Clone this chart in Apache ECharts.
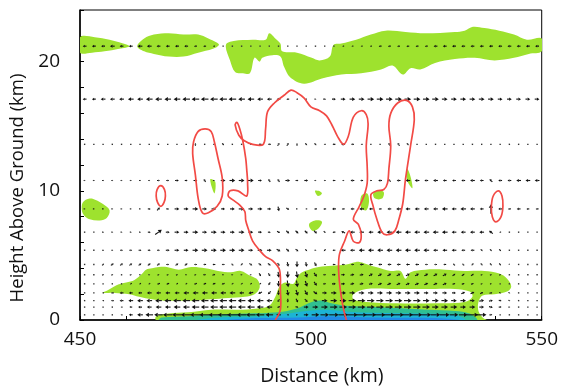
<!DOCTYPE html>
<html>
<head>
<meta charset="utf-8">
<script src="https://cdn.jsdelivr.net/npm/echarts@6/dist/echarts.min.js"></script>
<style>
  html, body { margin: 0; background: #fff; }
  #chart { width: 561px; height: 391px; }
</style>
</head>
<body>
<div id="chart"></div>
<script>
// vector grid: heights (km) of the wind rows and distances (km) of the columns
const levels = [21.2, 17.1, 13.6, 10.8, 8.6, 6.8, 5.4, 4.3, 3.5, 2.8, 2.1, 1.5, 1.0, 0.4];
const columns = [451, 453, 455, 457, 459, 461, 463, 465, 467, 469,
  471, 473, 475, 477, 479, 481, 483, 485, 487, 489,
  491, 493, 495, 497, 499, 501, 503, 505, 507, 509,
  511, 513, 515, 517, 519, 521, 523, 525, 527, 529,
  531, 533, 535, 537, 539, 541, 543, 545, 547, 549];

// horizontal wind (m/s), one row per level
const uWind = [
  [-4,-4,-4,-5,-4, -4,-5,-5,-4,-4, -4,-4,-3,-3,-2, -1,-1,-1,-1,-1, -1,-1,-1,-1,-1, -1,-1,-1,-2,-2, -2,-2,-3,-3,-3, -3,-3,-3,-4,-4, -4,-4,-4,-4,-4, -4,-4,-4,-4,-4],
  [-4,-4,-5,-5,-5, -6,-6,-7,-7,-7, -7,-8,-8,-8,-8, -8,-8,-7,-7,-6, -5,-4,-3,-2,0, 2,3,4,5,6, 6,7,7,7,7, 7,7,7,7,6, 6,6,6,6,6, 5,5,5,5,5],
  [-1,-1,-1,-1,-1, -1,-1,-1,-1,-1, -1,-1,0,-1,-1, 2,-1,-1,-1,-3, -3,2,2,0,2, 2,-2,-3,-4,-3, -2,-1,-1,-2,-2, 2,-1,-1,-1,-1, -1,-1,-1,-1,-1, -1,-1,-1,-1,-1],
  [2,2,2,2,2, 2,2,2,3,3, 4,3,4,-2,2, 5,6,6,6,4, -2,-2,5,3,4, 2,-2,-3,-2,-4, -3,-2,-4,-3,-4, -5,-5,-4,-5,-4, -4,-4,-5,-4,-3, -4,-4,-5,-5,-5],
  [2,2,2,2,2, 2,2,3,3,3, 5,5,6,5,5, 4,5,6,5,5, 4,1,3,2,-2, -3,-3,-4,-3,-4, -5,-4,-3,-4,-5, -5,-5,-5,-5,-6, -5,-6,-5,-4,0, -4,-3,-4,-3,-3],
  [1,1,2,2,2, 2,2,3,7,4, 5,5,6,5,6, 5,5,6,5,4, 3,3,3,3,3, 3,2,-3,-4,-5, -5,-5,-6,-6,-6, -6,-6,-6,-6,-6, -5,-5,-5,-5,-4, -2,-1,-1,-1,-1],
  [1,1,2,2,3, 3,3,3,3,4, 5,5,6,6,6, 6,6,6,5,5, 5,4,3,3,2, 2,-2,-3,-5,-5, -6,-6,-6,-6,-6, -6,-6,-6,-5,-5, -5,-4,-4,2,2, 2,1,1,1,1],
  [1,1,2,3,3, 3,3,3,3,3, 3,3,-3,-3,-3, -3,-2,-2,3,3, 3,2,1,0,1, 2,-2,-3,-3,-3, -4,-4,-4,-4,-4, -4,-4,-3,-3,-3, -2,-2,-2,2,2, 2,1,1,0,0],
  [0,1,2,2,1, 2,2,2,2,2, 2,2,2,3,3, 2,2,2,2,2, 2,1,0,1,2, 3,3,4,4,4, 4,4,4,4,4, 4,4,4,4,4, 3,3,3,2,2, 2,1,1,0,0],
  [0,0,1,1,1, -2,-2,-2,-3,-3, -2,-2,-3,-3,-3, -3,-2,-2,-2,-2, -2,0,1,1,2, 3,3,4,4,4, 4,4,4,4,4, 4,4,4,4,4, 3,3,3,2,2, 1,1,0,0,0],
  [0,-1,-2,-3,-4, -4,-4,-5,-5,-5, -5,-6,-6,-6,-6, -6,-6,-5,-5,-4, -3,0,1,2,3, 4,5,6,6,6, 6,6,6,6,6, 6,6,5,5,5, 4,4,4,3,3, 2,2,1,1,0],
  [0,-1,-2,-3,-4, -5,-6,-6,-7,-7, -8,-8,-8,-8,-8, -8,-8,-8,-7,-7, -6,-2,0,2,3, 4,6,7,7,8, 8,8,8,8,8, 8,8,7,7,7, 6,6,5,5,4, 3,2,1,1,0],
  [0,0,-1,-1,-2, -3,-4,-5,-6,-6, -7,-7,-8,-8,-8, -8,-8,-8,-8,-7, -6,-3,0,3,5, 6,7,8,8,8, 8,8,8,8,8, 8,8,8,7,7, 7,6,6,5,4, 3,2,1,1,0],
  [0,0,-1,-1,-2, -4,-6,-8,-9,-10, -10,-11,-11,-11,-11, -11,-11,-10,-10,-9, -8,-5,-2,2,5, 8,9,10,10,11, 11,11,11,11,11, 11,11,10,10,10, 9,9,12,10,3, 1,1,0,0,0]
];

// vertical wind (scaled), one row per level
const wWind = [
  [0,0,0,0,0, 0,0,0,0,0, 0,0,0,0,0, 0,0,0,0,0, 0,0,0,0,0, 0,0,0,0,0, 0,0,0,0,0, 0,0,0,0,0, 0,0,0,0,0, 0,0,0,0,0],
  [0,0,0,0,0, 0,0,0,0,0, 0,0,0,0,0, 0,0,0,0,0, 0,0,0,0,0, 0,0,0,0,0, 0,0,0,0,0, 0,0,0,0,0, 0,0,0,0,0, 0,0,0,0,0],
  [0,0,0,0,0, 0,0,0,0,0, 0,0,3,0,0, -2,0,0,0,0, 0,3,3,3,-2, -2,0,0,0,0, 0,0,0,3,3, -2,0,0,0,0, 0,0,0,0,0, 0,0,0,0,0],
  [0,0,0,0,0, 0,0,0,0,0, 0,0,0,3,0, 0,0,0,0,0, 3,3,0,0,0, 0,0,0,0,0, 0,0,0,2,0, 0,0,0,0,0, 0,0,0,0,3, 0,0,0,0,0],
  [0,0,0,0,0, 0,0,0,3,0, 0,0,0,0,0, 0,0,0,0,0, 0,-5,-2,0,0, 0,0,0,0,0, 0,0,0,0,0, 0,0,0,0,0, 0,0,0,0,10, 0,0,0,0,0],
  [0,0,0,0,0, 0,0,0,5,0, 0,0,0,0,0, 0,0,0,0,0, 0,-2,-3,-3,-3, -3,-2,0,2,0, 0,0,0,0,0, 0,0,0,0,0, 0,0,0,0,3, 0,0,0,0,0],
  [0,0,0,0,0, 0,0,0,0,0, 0,0,0,0,0, 0,0,0,0,0, 0,-2,-3,-2,-2, 0,-2,0,0,0, 0,0,0,0,0, 0,0,0,0,0, 0,0,0,-2,-2, -2,0,0,0,0],
  [0,0,2,2,2, 2,2,2,2,0, 2,2,0,0,0, 0,2,-2,-2,-2, -2,-3,-5,-6,-5, -4,0,0,0,0, 0,0,0,0,0, 0,0,0,0,0, 2,2,-2,-2,-2, -2,-1,0,0,0],
  [0,0,1,1,0, 1,0,0,1,1, 1,0,1,0,1, 0,0,0,0,-3, -3,-6,-7,-7,-6, -4,0,0,0,1, 1,2,2,2,2, 2,2,2,2,2, 2,2,2,1,1, 1,0,0,0,0],
  [0,0,0,0,0, -1,-1,-1,-1,-1, -1,-1,-1,-1,-1, -1,-1,-1,-1,-1, -3,-6,-7,-7,-6, -4,0,0,0,1, 1,1,2,2,2, 2,2,2,2,2, 1,1,1,1,0, 0,0,0,0,0],
  [0,0,0,0,0, 0,0,0,0,0, 0,0,0,0,0, 0,0,0,-1,-2, -3,-5,-6,-6,-5, -3,0,0,0,0, 0,0,0,0,0, 0,0,0,0,0, 0,2,2,2,1, -1,-1,0,0,0],
  [0,0,0,0,0, 0,0,0,0,0, 0,0,0,0,0, 0,0,0,0,0, 0,-3,-4,-4,-3, -2,0,0,0,0, 0,0,0,0,0, 0,0,0,0,0, 0,0,0,1,1, -1,-1,0,0,0],
  [0,0,0,0,0, 0,0,0,0,0, 0,0,0,0,0, 0,0,0,0,0, 0,-1,-2,-1,0, 0,0,0,0,0, 0,0,0,0,0, 0,0,0,0,0, 0,0,0,0,-1, 0,0,0,0,0],
  [0,0,0,0,0, 0,0,0,0,0, 0,0,0,0,0, 0,0,0,0,0, 0,0,0,0,0, 0,0,0,0,0, 0,0,0,0,0, 0,0,0,0,0, 0,0,0,0,0, 0,0,0,0,0]
];

// filled contour outlines, [distance km, height km]
const anvilLeft = [[450,21.9],[453.2,21.9],[456.4,21.7],[458.5,21.5],[460.7,21.2],[458.5,21.0],[455.3,20.8],[452.6,20.7],[450,20.7]];
const anvilMid = [[462.4,21.2],[463.9,21.8],[466.0,22.1],[469.2,22.2],[472.4,22.1],[475.6,22.1],[477.8,21.8],[479.5,21.5],[480.1,21.3],[478.8,21.0],[475.6,20.7],[472.4,20.4],[469.2,20.4],[466.0,20.6],[463.9,20.8]];
const anvilRight = [[481.6,21.3],[483.3,21.6],[487.4,21.7],[490.2,21.7],[491.0,22.2],[492.3,21.8],[493.4,21.4],[493.8,20.8],[497.0,20.7],[500.2,20.3],[501.9,20.1],[504.1,20.4],[504.9,21.3],[506.6,21.4],[509.8,21.7],[513.0,22.1],[516.2,22.4],[520.5,22.3],[524.8,22.2],[531.2,22.3],[533.3,22.4],[535.1,22.7],[537.6,22.6],[540.8,22.4],[544.0,22.1],[546.8,21.7],[550,21.8],
  [550,20.8],[547.2,20.6],[544.0,20.3],[539.8,20.1],[535.5,20.3],[531.2,20.2],[526.9,19.9],[523.7,19.4],[521.6,19.5],[519.9,19.0],[517.7,19.7],[515.2,19.4],[510.9,19.1],[506.6,19.0],[502.4,18.7],[498.5,18.3],[495.5,18.8],[494.2,19.6],[493.4,20.4],[491.7,20.5],[489.5,20.3],[488.9,20.0],[487.8,20.3],[486.8,19.1],[485.3,19.1],[483.6,19.2],[482.5,20.1]];
const midLeftPatch = [[450.6,9.1],[452.1,9.4],[453.4,9.3],[454.9,9.0],[456.4,8.5],[455.8,7.9],[454.3,7.7],[452.1,7.8],[450.9,8.1],[450.4,8.5]];
const lowLeftCloud = [[454.9,2.1],[456.0,2.3],[457.9,2.7],[460.0,2.9],[461.8,3.1],[463.5,3.6],[464.3,3.9],[465.6,4.0],[467.1,4.1],[468.8,4.1],[471.4,3.9],[474.1,4.1],[477.1,4.0],[479.9,3.8],[482.7,3.7],[484.8,3.8],[487.0,3.4],[488.5,3.1],[488.9,2.5],[487.8,2.0],[485.7,1.8],[482.1,1.7],[478.4,1.6],[474.6,1.5],[471.4,1.5],[468.2,1.5],[465.6,1.6],[462.8,1.8],[460.7,2.0],[457.5,2.1]];
const lowRightCloud = [[466.5,0],[466.5,0.3],[469.2,0.5],[473.5,0.6],[478.4,0.8],[484.2,0.8],[488.5,0.9],[491.0,1.1],[492.3,1.8],[493.2,2.6],[494.4,2.9],[496.2,2.8],[497.0,3.3],[498.1,3.7],[499.6,3.9],[501.7,4.1],[504.5,4.2],[507.7,4.3],[509.8,4.5],[511.5,4.4],[514.1,4.1],[517.3,3.8],[519.4,3.8],[520.5,3.2],[521.6,3.7],[524.8,3.9],[529.1,3.9],[533.3,3.8],[537.6,3.8],[540.8,3.6],[542.5,3.2],[543.4,2.6],[542.5,2.2],[539.8,2.0],[537.2,1.9],[536.3,1.4],[536.3,0.7],[537.2,0.2],[538.0,0]];
const innerPatches = [
  [[478.2,10.9],[479.3,10.7],[479.1,9.8]],
  [[500.9,10.0],[501.7,10.0],[502.4,9.8],[501.5,9.6]],
  [[499.6,7.4],[500.9,7.7],[502.4,7.6],[501.7,7.1],[500.4,6.9]],
  [[510.9,9.6],[512.2,9.8],[512.6,9.2],[512.0,8.5],[510.9,8.7]],
  [[513.5,9.8],[514.7,10.0],[515.8,9.9],[515.4,9.4],[513.9,9.4]],
  [[520.9,11.7],[521.6,11.1],[522.0,10.2],[521.1,10.6],[520.7,11.1]]
];
const clearGap = [[509.2,2.0],[512.0,2.4],[518.4,2.4],[524.8,2.4],[531.2,2.4],[534.4,2.2],[535.0,1.8],[533.3,1.4],[526.9,1.3],[518.4,1.3],[512.0,1.4],[509.2,1.6]];
const tealLayer = [[467.1,0],[467.7,0.2],[473.5,0.3],[478.4,0.4],[486.3,0.5],[492.7,0.6],[497.0,0.9],[500.2,1.4],[502.4,1.5],[504.5,1.3],[507.7,1.1],[514.1,1.0],[525.4,0.8],[531.2,0.7],[534.4,0.5],[535.9,0]];
const cyanLayer = [[475.6,0],[479.9,0.2],[488.5,0.3],[494.9,0.5],[499.1,0.7],[503.4,0.8],[509.8,0.6],[522.6,0.5],[531.2,0.4],[533.3,0]];
const blueLayer = [[482.1,0],[488.5,0.15],[497.0,0.2],[503.4,0.3],[514.1,0.2],[526.9,0.15],[531.8,0]];

// red contour lines
const cloudEdge = [[492.3,0.0],[493.4,0.8],[493.4,2.3],[493.2,3.9],[491.7,4.6],[490.2,4.9],[488.9,5.4],[487.4,6.1],[486.5,7.0],[485.9,7.7],[485.7,8.4],[484.6,8.9],[483.1,9.3],[482.1,9.6],[482.5,10.0],[484.2,10.0],[486.1,9.6],[486.3,10.6],[486.1,11.7],[485.9,12.5],[485.3,13.8],[484.6,14.8],[484.0,15.3],[483.6,15.1],[484.4,14.3],[485.5,13.9],[487.4,13.6],[489.7,13.6],[490.2,14.8],[490.6,16.1],[492.1,16.8],[494.2,17.4],[495.7,17.8],[497.0,17.6],[498.5,17.2],[500.0,16.5],[501.9,16.2],[503.4,15.8],[504.7,15.0],[505.8,14.2],[507.1,13.6],[508.1,14.2],[509.2,15.7],[510.9,16.2],[512.0,15.9],[512.4,15.2],[512.0,13.5],[512.2,11.9],[512.2,10.6],[511.5,9.6],[510.5,8.8],[509.2,7.8],[510.3,7.4],[510.9,6.6],[510.5,6.0],[509.2,6.1],[508.3,6.9],[507.3,6.1],[506.2,5.1],[506.0,4.1],[506.2,2.9],[506.6,1.8],[507.1,0.8],[507.7,0.0]];
const towerLeft = [[474.6,13.8],[475.6,14.6],[477.1,14.8],[478.4,14.6],[479.1,13.8],[479.9,12.5],[480.8,11.0],[480.8,9.6],[479.7,8.8],[477.8,8.3],[476.5,8.3],[475.6,9.4],[475.0,11.2],[474.4,12.9]];
const towerRight = [[518.8,16.8],[520.7,17.0],[522.0,16.5],[522.4,15.5],[521.6,13.5],[520.5,10.9],[519.9,9.0],[519.0,7.7],[518.2,6.9],[516.6,6.6],[515.4,6.8],[514.3,7.8],[513.5,8.8],[513.0,9.7],[514.3,10.0],[515.8,10.1],[516.6,10.6],[516.9,11.7],[517.3,13.5],[516.9,15.0],[517.3,16.0]];
const cellWest = [[467.5,10.4],[468.3,10.1],[468.5,9.6],[468.2,9.1],[467.5,8.8],[466.8,9.1],[466.5,9.6],[466.7,10.1]];
const cellEast = [[540.6,10.0],[541.4,9.6],[541.6,8.8],[541.2,8.0],[540.1,7.6],[539.3,8.0],[539.1,8.8],[539.5,9.6]];

const ARROW_SCALE = 0.95;

const vectors = [];
levels.forEach((h, r) => {
  columns.forEach((x, c) => vectors.push([x, h, uWind[r][c], wWind[r][c]]));
});

function shapeSeries(shapes, opts) {
  return {
    type: 'custom',
    clip: true,
    z: opts.z,
    silent: true,
    data: shapes.map(s => s[0]),
    renderItem: (params, api) => {
      const pts = shapes[params.dataIndex].map(p => api.coord(p));
      return {
        type: opts.open ? 'polyline' : 'polygon',
        shape: { points: pts, smooth: 0.35 },
        style: opts.stroke
          ? { fill: opts.open ? null : 'none', stroke: opts.stroke, lineWidth: 1.7 }
          : { fill: opts.fill }
      };
    }
  };
}

function renderArrow(params, api) {
  const p = api.coord([api.value(0), api.value(1)]);
  const dx = api.value(2) * ARROW_SCALE;
  const dy = -api.value(3) * ARROW_SCALE;
  const len = Math.hypot(dx, dy);
  const color = '#111';
  if (len < 1.2) {
    return { type: 'rect', shape: { x: p[0] - 0.7, y: p[1] - 0.7, width: 1.4, height: 1.4 }, style: { fill: '#333' } };
  }
  const x0 = p[0] - dx / 2, y0 = p[1] - dy / 2;
  const x1 = p[0] + dx / 2, y1 = p[1] + dy / 2;
  const ux = dx / len, uy = dy / len;
  const hl = Math.min(3.5, len * 0.55), hw = hl * 0.62;
  const bx = x1 - ux * hl, by = y1 - uy * hl;
  return {
    type: 'group',
    children: [
      { type: 'line', shape: { x1: x0, y1: y0, x2: bx, y2: by }, style: { stroke: color, lineWidth: 1.1 } },
      { type: 'polygon', shape: { points: [[x1, y1], [bx - uy * hw, by + ux * hw], [bx + uy * hw, by - ux * hw]] }, style: { fill: color } }
    ]
  };
}

const chart = echarts.init(document.getElementById('chart'));
const font = '"Open Sans", "DejaVu Sans", sans-serif';

chart.setOption({
  animation: false,
  grid: { left: 80, right: 13, top: 10, bottom: 68, show: true, borderColor: '#000', borderWidth: 1, backgroundColor: '#fff' },
  xAxis: {
    type: 'value', min: 450, max: 550, interval: 10,
    name: 'Distance (km)', nameLocation: 'middle', nameGap: 46,
    nameTextStyle: { fontFamily: font, fontSize: 19.5, color: '#111', padding: [0, 0, 0, 22] },
    axisLine: { onZero: false, lineStyle: { color: '#000', width: 1.5 } },
    axisTick: { inside: true, length: 4, lineStyle: { color: '#000' } },
    axisLabel: { formatter: v => (v % 50 === 0 ? String(v) : ''), fontFamily: font, fontSize: 19, color: '#111', margin: 10 },
    splitLine: { show: false }
  },
  yAxis: {
    type: 'value', min: 0, max: 24, interval: 2,
    name: 'Height Above Ground (km)', nameLocation: 'middle', nameGap: 48,
    nameTextStyle: { fontFamily: font, fontSize: 18.5, color: '#111', padding: [0, 46, 0, 0] },
    axisLine: { onZero: false, lineStyle: { color: '#000', width: 1.5 } },
    axisTick: { inside: true, length: 4, lineStyle: { color: '#000' } },
    axisLabel: { formatter: v => (v % 10 === 0 ? String(v) : ''), fontFamily: font, fontSize: 19, color: '#111', margin: 20 },
    splitLine: { show: false }
  },
  series: [
    shapeSeries([anvilLeft, anvilMid, anvilRight, midLeftPatch, lowLeftCloud, lowRightCloud].concat(innerPatches), { fill: '#9ee22e', z: 1 }),
    shapeSeries([clearGap], { fill: '#ffffff', z: 2 }),
    shapeSeries([tealLayer], { fill: '#2fbf92', z: 3 }),
    shapeSeries([cyanLayer], { fill: '#1cb4d4', z: 4 }),
    shapeSeries([blueLayer], { fill: '#2189e6', z: 5 }),
    {
      type: 'custom', clip: true, z: 6, silent: true,
      data: vectors,
      renderItem: renderArrow
    },
    shapeSeries([cloudEdge], { stroke: '#f24a45', open: true, z: 7 }),
    shapeSeries([towerLeft, towerRight, cellWest, cellEast], { stroke: '#f24a45', z: 7 })
  ]
});
</script>
</body>
</html>
